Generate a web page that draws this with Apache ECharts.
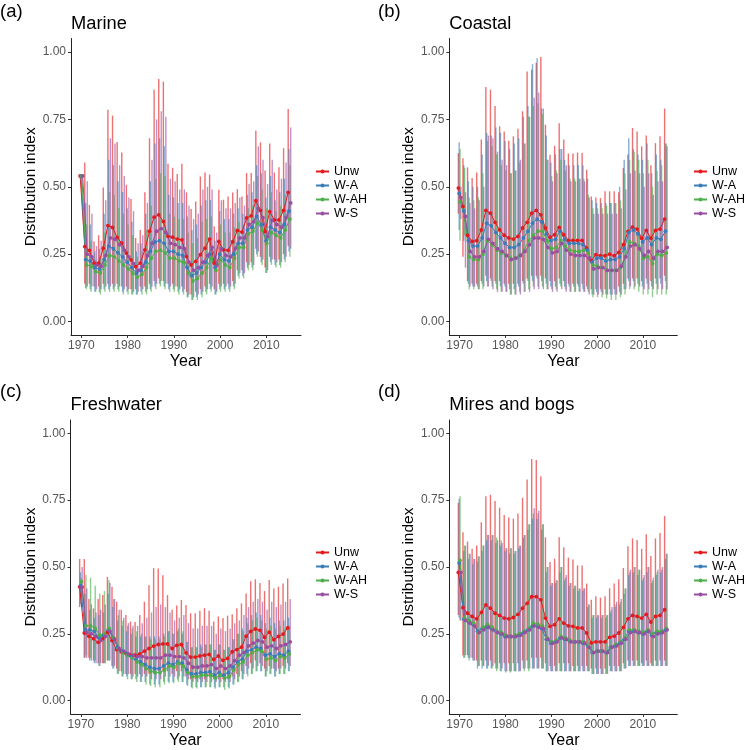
<!DOCTYPE html>
<html><head><meta charset="utf-8">
<script src="https://cdn.jsdelivr.net/npm/echarts@6/dist/echarts.min.js"></script>
<style>html,body{margin:0;padding:0;background:#fff}#c{width:747px;height:750px}</style>
</head><body><div id="c"></div>
<script>
const years = [1970,1971,1972,1973,1974,1975,1976,1977,1978,1979,1980,1981,1982,1983,1984,1985,1986,1987,1988,1989,1990,1991,1992,1993,1994,1995,1996,1997,1998,1999,2000,2001,2002,2003,2004,2005,2006,2007,2008,2009,2010,2011,2012,2013,2014,2015];
const seriesNames = ['Unw','W-A','W-AH','W-S'];
const panelTitles = ['Marine','Coastal','Freshwater','Mires and bogs'];
const panelLabels = ['(a)','(b)','(c)','(d)'];
const yTicks = [0,0.25,0.5,0.75,1];
const xTicks = [1970,1980,1990,2000,2010];

// ---- (a) Marine ----
const aUnw = [0.54,0.278,0.264,0.217,0.217,0.272,0.356,0.349,0.312,0.291,0.254,0.229,0.204,0.217,0.266,0.335,0.387,0.396,0.371,0.316,0.313,0.306,0.303,0.241,0.210,0.223,0.248,0.272,0.306,0.217,0.297,0.266,0.264,0.296,0.338,0.332,0.384,0.392,0.448,0.412,0.334,0.408,0.377,0.377,0.412,0.479];
const aWA = [0.54,0.23,0.225,0.20,0.195,0.23,0.28,0.27,0.255,0.24,0.22,0.20,0.18,0.19,0.22,0.26,0.295,0.30,0.29,0.26,0.26,0.25,0.245,0.20,0.17,0.18,0.20,0.22,0.25,0.20,0.25,0.23,0.225,0.25,0.29,0.29,0.34,0.35,0.39,0.36,0.30,0.35,0.34,0.33,0.36,0.41];
const aWAH = [0.54,0.21,0.205,0.185,0.18,0.21,0.245,0.24,0.225,0.21,0.195,0.18,0.165,0.175,0.20,0.235,0.26,0.265,0.255,0.235,0.235,0.225,0.22,0.18,0.15,0.16,0.18,0.20,0.235,0.19,0.23,0.21,0.20,0.235,0.275,0.275,0.325,0.335,0.365,0.34,0.29,0.33,0.32,0.31,0.34,0.38];
const aWS = [0.54,0.25,0.24,0.21,0.205,0.245,0.31,0.305,0.285,0.265,0.24,0.215,0.19,0.205,0.245,0.29,0.335,0.345,0.33,0.29,0.285,0.275,0.27,0.22,0.19,0.20,0.22,0.245,0.275,0.21,0.27,0.245,0.24,0.27,0.31,0.31,0.36,0.37,0.42,0.385,0.315,0.375,0.36,0.35,0.385,0.44];
const aUnwHi = [null,0.59,0.433,0.297,0.32,0.497,0.786,0.764,0.666,0.627,0.507,0.455,0.31,0.34,0.48,0.68,0.86,0.90,0.89,0.585,0.57,0.547,0.585,0.479,0.417,0.445,0.538,0.553,0.545,0.353,0.489,0.452,0.464,0.479,0.491,0.464,0.551,0.551,0.708,0.665,0.56,0.66,0.553,0.572,0.643,0.788];
const aWAHi = [null,0.44,0.36,0.26,0.27,0.40,0.60,0.58,0.52,0.48,0.42,0.37,0.26,0.29,0.40,0.52,0.66,0.68,0.65,0.47,0.46,0.44,0.44,0.39,0.34,0.36,0.43,0.45,0.45,0.30,0.41,0.38,0.38,0.40,0.42,0.40,0.47,0.48,0.58,0.55,0.46,0.54,0.45,0.48,0.53,0.64];
const aWAHHi = [null,0.36,0.30,0.23,0.24,0.33,0.48,0.47,0.42,0.40,0.36,0.32,0.24,0.26,0.34,0.43,0.53,0.55,0.54,0.40,0.39,0.38,0.38,0.33,0.29,0.31,0.37,0.38,0.39,0.27,0.36,0.33,0.33,0.35,0.37,0.36,0.42,0.43,0.54,0.49,0.42,0.48,0.41,0.43,0.47,0.58];
const aWSHi = [null,0.52,0.40,0.28,0.30,0.45,0.68,0.66,0.58,0.54,0.46,0.41,0.29,0.32,0.44,0.60,0.75,0.78,0.76,0.53,0.52,0.49,0.49,0.43,0.38,0.40,0.49,0.50,0.49,0.33,0.45,0.42,0.42,0.44,0.46,0.43,0.51,0.52,0.65,0.60,0.51,0.60,0.49,0.53,0.59,0.72];
const aUnwLo = [null,0.14,0.14,0.13,0.13,0.14,0.14,0.14,0.14,0.13,0.13,0.12,0.12,0.13,0.13,0.14,0.15,0.16,0.15,0.14,0.14,0.13,0.13,0.11,0.10,0.11,0.12,0.13,0.14,0.12,0.14,0.14,0.14,0.15,0.19,0.19,0.22,0.22,0.27,0.24,0.20,0.24,0.23,0.23,0.25,0.28];
const aWALo = [null,0.125,0.12,0.11,0.11,0.12,0.12,0.12,0.12,0.11,0.11,0.10,0.10,0.11,0.11,0.12,0.13,0.14,0.13,0.12,0.12,0.11,0.11,0.09,0.08,0.09,0.10,0.11,0.12,0.10,0.12,0.12,0.12,0.13,0.17,0.17,0.20,0.20,0.25,0.22,0.18,0.22,0.21,0.21,0.23,0.26];
const aWAHLo = [null,0.12,0.11,0.11,0.10,0.11,0.11,0.11,0.11,0.10,0.10,0.10,0.10,0.10,0.10,0.11,0.12,0.13,0.12,0.11,0.11,0.10,0.10,0.09,0.08,0.08,0.09,0.10,0.11,0.10,0.11,0.11,0.11,0.12,0.16,0.16,0.19,0.19,0.24,0.21,0.18,0.21,0.20,0.20,0.22,0.24];
const aWSLo = [null,0.13,0.13,0.12,0.12,0.13,0.13,0.13,0.13,0.12,0.12,0.11,0.11,0.12,0.12,0.13,0.14,0.15,0.14,0.13,0.13,0.12,0.12,0.10,0.09,0.10,0.11,0.12,0.13,0.11,0.13,0.13,0.13,0.14,0.18,0.18,0.21,0.21,0.26,0.23,0.19,0.23,0.22,0.22,0.24,0.27];

// ---- (b) Coastal ----
const bUnw = [0.495,0.427,0.32,0.297,0.30,0.34,0.412,0.402,0.368,0.34,0.32,0.31,0.306,0.316,0.347,0.368,0.402,0.412,0.396,0.347,0.313,0.322,0.349,0.322,0.301,0.301,0.301,0.301,0.272,0.226,0.248,0.244,0.244,0.25,0.244,0.256,0.285,0.334,0.35,0.343,0.309,0.338,0.309,0.338,0.343,0.38];
const bWA = [0.475,0.41,0.30,0.28,0.28,0.31,0.365,0.355,0.33,0.31,0.29,0.275,0.275,0.285,0.31,0.335,0.365,0.38,0.37,0.325,0.30,0.305,0.335,0.305,0.29,0.29,0.29,0.285,0.265,0.22,0.235,0.235,0.225,0.23,0.23,0.24,0.27,0.33,0.34,0.325,0.295,0.31,0.285,0.31,0.305,0.335];
const bWAH = [0.445,0.39,0.24,0.23,0.23,0.25,0.30,0.285,0.265,0.255,0.245,0.235,0.235,0.245,0.265,0.30,0.32,0.335,0.335,0.30,0.27,0.275,0.30,0.28,0.265,0.26,0.26,0.265,0.255,0.21,0.205,0.20,0.19,0.19,0.19,0.20,0.24,0.295,0.29,0.28,0.235,0.24,0.215,0.25,0.245,0.255];
const bWS = [0.46,0.39,0.26,0.24,0.24,0.26,0.305,0.29,0.27,0.26,0.245,0.23,0.235,0.245,0.26,0.285,0.31,0.31,0.305,0.275,0.255,0.26,0.29,0.265,0.25,0.245,0.245,0.245,0.235,0.195,0.20,0.20,0.19,0.19,0.19,0.205,0.24,0.28,0.285,0.27,0.245,0.26,0.235,0.26,0.26,0.275];
const bUnwHi = [0.625,0.606,0.572,0.532,0.553,0.675,0.87,0.86,0.80,0.724,0.705,0.671,0.687,0.715,0.78,0.928,0.934,0.96,0.981,0.73,0.619,0.652,0.736,0.675,0.623,0.623,0.627,0.625,0.563,0.464,0.46,0.458,0.483,0.483,0.483,0.48,0.57,0.62,0.718,0.705,0.65,0.69,0.58,0.662,0.687,0.79];
const bWAHi = [0.665,0.58,0.52,0.50,0.50,0.62,0.70,0.69,0.72,0.70,0.67,0.64,0.66,0.68,0.76,0.80,0.955,0.977,0.79,0.69,0.59,0.62,0.64,0.60,0.58,0.58,0.58,0.58,0.53,0.45,0.44,0.44,0.44,0.44,0.44,0.50,0.60,0.68,0.64,0.62,0.60,0.66,0.55,0.62,0.60,0.66];
const bWAHHi = [0.64,0.57,0.46,0.45,0.46,0.55,0.67,0.65,0.62,0.58,0.56,0.55,0.56,0.59,0.66,0.76,0.80,0.81,0.77,0.60,0.54,0.56,0.60,0.56,0.53,0.53,0.53,0.53,0.47,0.42,0.42,0.42,0.43,0.44,0.44,0.45,0.55,0.60,0.63,0.60,0.55,0.60,0.50,0.56,0.58,0.66];
const bWSHi = [0.50,0.48,0.44,0.42,0.45,0.50,0.69,0.68,0.63,0.60,0.58,0.55,0.56,0.60,0.66,0.76,0.83,0.85,0.79,0.60,0.52,0.55,0.64,0.58,0.52,0.52,0.53,0.52,0.46,0.40,0.40,0.40,0.40,0.40,0.40,0.42,0.49,0.55,0.56,0.55,0.50,0.55,0.47,0.52,0.52,0.65];
const bUnwLo = [0.40,0.24,0.15,0.14,0.14,0.15,0.17,0.16,0.15,0.15,0.14,0.14,0.14,0.14,0.15,0.16,0.17,0.17,0.17,0.16,0.15,0.15,0.16,0.15,0.14,0.14,0.14,0.14,0.13,0.12,0.12,0.12,0.12,0.12,0.12,0.13,0.14,0.16,0.16,0.16,0.15,0.16,0.15,0.16,0.16,0.17];
const bWALo = [0.34,0.30,0.14,0.13,0.13,0.14,0.15,0.15,0.14,0.13,0.13,0.12,0.12,0.13,0.14,0.15,0.15,0.16,0.15,0.14,0.13,0.13,0.14,0.13,0.13,0.13,0.13,0.12,0.12,0.10,0.11,0.11,0.10,0.10,0.10,0.11,0.12,0.15,0.15,0.14,0.13,0.14,0.13,0.14,0.14,0.15];
const bWAHLo = [0.30,0.32,0.12,0.12,0.12,0.12,0.13,0.13,0.12,0.11,0.11,0.10,0.10,0.11,0.11,0.12,0.13,0.13,0.13,0.12,0.12,0.12,0.13,0.12,0.11,0.11,0.11,0.11,0.11,0.09,0.09,0.09,0.085,0.08,0.08,0.09,0.10,0.12,0.12,0.11,0.10,0.10,0.09,0.10,0.10,0.10];
const bWSLo = [0.38,0.20,0.13,0.13,0.12,0.13,0.13,0.12,0.11,0.11,0.11,0.10,0.10,0.10,0.11,0.11,0.12,0.12,0.12,0.12,0.11,0.11,0.12,0.11,0.11,0.11,0.11,0.11,0.10,0.10,0.10,0.10,0.10,0.10,0.10,0.10,0.12,0.13,0.13,0.13,0.12,0.12,0.12,0.12,0.12,0.12];

// ---- (c) Freshwater ----
const cUnw = [0.426,0.253,0.241,0.232,0.218,0.232,0.256,0.225,0.191,0.183,0.177,0.17,0.17,0.175,0.185,0.195,0.204,0.21,0.212,0.212,0.195,0.207,0.21,0.179,0.163,0.163,0.167,0.17,0.173,0.154,0.167,0.151,0.158,0.183,0.191,0.20,0.241,0.259,0.268,0.263,0.237,0.256,0.228,0.24,0.249,0.272];
const cWA = [0.43,0.265,0.265,0.26,0.235,0.245,0.265,0.235,0.20,0.185,0.175,0.165,0.155,0.145,0.135,0.125,0.12,0.12,0.13,0.14,0.135,0.145,0.14,0.115,0.10,0.10,0.105,0.105,0.108,0.095,0.105,0.095,0.105,0.125,0.145,0.155,0.185,0.19,0.20,0.195,0.17,0.175,0.165,0.175,0.17,0.185];
const cWAH = [0.445,0.28,0.28,0.27,0.245,0.25,0.27,0.235,0.195,0.18,0.17,0.16,0.145,0.135,0.12,0.11,0.105,0.105,0.115,0.13,0.125,0.14,0.13,0.105,0.09,0.09,0.095,0.095,0.095,0.085,0.095,0.085,0.09,0.115,0.135,0.145,0.17,0.18,0.19,0.185,0.155,0.16,0.15,0.165,0.16,0.175];
const cWS = [0.425,0.255,0.25,0.24,0.225,0.24,0.26,0.23,0.195,0.185,0.175,0.17,0.165,0.165,0.16,0.16,0.16,0.16,0.17,0.17,0.165,0.165,0.16,0.14,0.125,0.125,0.13,0.13,0.135,0.12,0.13,0.12,0.13,0.15,0.17,0.18,0.205,0.215,0.225,0.22,0.20,0.205,0.195,0.205,0.21,0.22];
const cUnwHi = [0.53,0.53,0.38,0.345,0.38,0.395,0.463,0.426,0.37,0.34,0.32,0.296,0.294,0.32,0.37,0.432,0.496,0.494,0.469,0.395,0.34,0.356,0.377,0.358,0.327,0.327,0.336,0.346,0.336,0.296,0.315,0.309,0.318,0.323,0.346,0.364,0.401,0.447,0.454,0.44,0.41,0.451,0.42,0.426,0.438,0.457];
const cWAHi = [0.48,0.40,0.34,0.31,0.32,0.33,0.40,0.35,0.30,0.28,0.26,0.25,0.24,0.24,0.24,0.24,0.24,0.24,0.25,0.26,0.25,0.26,0.25,0.22,0.20,0.20,0.21,0.21,0.21,0.19,0.21,0.19,0.20,0.23,0.25,0.27,0.31,0.32,0.33,0.32,0.29,0.31,0.29,0.30,0.30,0.31];
const cWAHHi = [0.46,0.47,0.46,0.43,0.40,0.41,0.45,0.38,0.32,0.30,0.28,0.27,0.26,0.25,0.24,0.23,0.23,0.23,0.24,0.26,0.25,0.27,0.26,0.22,0.20,0.20,0.20,0.21,0.21,0.19,0.21,0.19,0.20,0.23,0.25,0.26,0.29,0.30,0.31,0.30,0.27,0.28,0.27,0.28,0.27,0.28];
const cWSHi = [0.50,0.42,0.36,0.33,0.34,0.36,0.44,0.38,0.34,0.31,0.29,0.28,0.28,0.29,0.31,0.33,0.35,0.36,0.35,0.33,0.30,0.31,0.32,0.29,0.27,0.27,0.28,0.28,0.28,0.25,0.27,0.26,0.27,0.29,0.30,0.32,0.35,0.37,0.38,0.37,0.34,0.37,0.35,0.36,0.37,0.38];
const cUnwLo = [0.35,0.16,0.16,0.15,0.14,0.14,0.15,0.13,0.12,0.11,0.10,0.10,0.10,0.10,0.10,0.10,0.10,0.11,0.11,0.11,0.10,0.11,0.11,0.09,0.08,0.08,0.08,0.08,0.09,0.08,0.08,0.08,0.08,0.09,0.10,0.11,0.13,0.14,0.15,0.14,0.12,0.13,0.12,0.12,0.13,0.14];
const cWALo = [0.36,0.16,0.15,0.14,0.13,0.14,0.15,0.12,0.10,0.09,0.09,0.08,0.08,0.07,0.07,0.06,0.06,0.06,0.07,0.07,0.07,0.08,0.07,0.06,0.05,0.05,0.05,0.05,0.05,0.05,0.05,0.05,0.05,0.06,0.07,0.08,0.10,0.10,0.11,0.11,0.09,0.10,0.09,0.10,0.10,0.11];
const cWAHLo = [0.38,0.17,0.16,0.15,0.13,0.14,0.15,0.12,0.10,0.09,0.08,0.08,0.07,0.07,0.06,0.055,0.05,0.05,0.06,0.065,0.065,0.07,0.07,0.055,0.045,0.045,0.05,0.05,0.05,0.045,0.05,0.04,0.045,0.06,0.07,0.08,0.09,0.10,0.11,0.11,0.09,0.10,0.09,0.10,0.10,0.11];
const cWSLo = [0.35,0.16,0.15,0.14,0.14,0.14,0.15,0.13,0.11,0.10,0.10,0.09,0.09,0.09,0.09,0.08,0.08,0.08,0.09,0.09,0.09,0.09,0.09,0.08,0.07,0.07,0.07,0.07,0.07,0.07,0.07,0.07,0.07,0.08,0.09,0.10,0.12,0.12,0.13,0.13,0.11,0.12,0.11,0.12,0.12,0.13];

// ---- (d) Mires and bogs ----
const dUnw = [0.48,0.348,0.327,0.315,0.306,0.33,0.358,0.346,0.327,0.319,0.309,0.306,0.311,0.323,0.346,0.364,0.389,0.389,0.377,0.309,0.278,0.284,0.306,0.29,0.28,0.278,0.272,0.272,0.253,0.216,0.22,0.22,0.22,0.237,0.241,0.253,0.274,0.306,0.319,0.315,0.309,0.323,0.294,0.315,0.319,0.34];
const dWA = [0.515,0.305,0.295,0.285,0.26,0.27,0.275,0.27,0.26,0.25,0.24,0.24,0.24,0.245,0.255,0.265,0.28,0.28,0.27,0.23,0.215,0.22,0.235,0.23,0.225,0.22,0.22,0.215,0.205,0.18,0.185,0.185,0.18,0.20,0.205,0.215,0.23,0.26,0.26,0.255,0.25,0.26,0.245,0.255,0.255,0.265];
const dWAH = [0.525,0.31,0.30,0.29,0.255,0.275,0.285,0.275,0.26,0.255,0.245,0.24,0.245,0.25,0.26,0.27,0.29,0.285,0.28,0.235,0.22,0.225,0.24,0.235,0.225,0.22,0.22,0.22,0.205,0.18,0.185,0.185,0.18,0.20,0.21,0.22,0.235,0.265,0.265,0.26,0.255,0.265,0.25,0.26,0.26,0.27];
const dWS = [0.48,0.30,0.29,0.28,0.255,0.265,0.275,0.265,0.255,0.25,0.24,0.24,0.24,0.245,0.255,0.265,0.28,0.275,0.27,0.23,0.215,0.22,0.235,0.23,0.22,0.22,0.22,0.215,0.20,0.18,0.185,0.185,0.18,0.20,0.205,0.215,0.23,0.255,0.26,0.255,0.25,0.26,0.24,0.25,0.255,0.265];
const dUnwHi = [0.74,0.63,0.595,0.568,0.58,0.667,0.765,0.77,0.747,0.722,0.695,0.685,0.681,0.70,0.759,0.827,0.904,0.90,0.84,0.611,0.519,0.531,0.611,0.574,0.535,0.528,0.506,0.506,0.438,0.377,0.391,0.385,0.391,0.42,0.438,0.454,0.496,0.578,0.607,0.601,0.568,0.623,0.541,0.607,0.627,0.691];
const dWAHi = [0.755,0.56,0.53,0.51,0.52,0.56,0.60,0.60,0.59,0.58,0.56,0.55,0.55,0.57,0.61,0.64,0.68,0.68,0.64,0.48,0.43,0.44,0.48,0.45,0.43,0.42,0.41,0.41,0.35,0.31,0.31,0.31,0.31,0.33,0.35,0.36,0.40,0.47,0.48,0.47,0.45,0.48,0.44,0.47,0.48,0.53];
const dWAHHi = [0.765,0.58,0.55,0.53,0.54,0.58,0.62,0.62,0.61,0.60,0.57,0.57,0.56,0.58,0.62,0.66,0.70,0.70,0.66,0.50,0.44,0.45,0.50,0.46,0.44,0.43,0.42,0.42,0.36,0.32,0.32,0.32,0.32,0.34,0.36,0.37,0.42,0.48,0.50,0.49,0.46,0.50,0.45,0.48,0.49,0.55];
const dWSHi = [0.52,0.58,0.55,0.53,0.54,0.58,0.62,0.62,0.60,0.59,0.57,0.57,0.56,0.58,0.62,0.66,0.72,0.71,0.66,0.50,0.44,0.45,0.50,0.47,0.44,0.43,0.42,0.42,0.36,0.32,0.32,0.32,0.32,0.35,0.37,0.38,0.42,0.49,0.50,0.49,0.47,0.50,0.46,0.49,0.50,0.55];
const dUnwLo = [0.32,0.17,0.17,0.16,0.15,0.15,0.15,0.15,0.14,0.14,0.14,0.14,0.14,0.14,0.15,0.15,0.16,0.16,0.16,0.14,0.13,0.13,0.14,0.14,0.14,0.13,0.13,0.13,0.13,0.12,0.12,0.12,0.12,0.13,0.13,0.13,0.14,0.15,0.15,0.15,0.14,0.15,0.14,0.15,0.15,0.15];
const dWALo = [0.31,0.16,0.16,0.15,0.12,0.12,0.12,0.12,0.12,0.11,0.11,0.11,0.11,0.11,0.12,0.12,0.12,0.12,0.12,0.11,0.11,0.11,0.11,0.11,0.11,0.11,0.11,0.11,0.11,0.10,0.10,0.10,0.10,0.11,0.11,0.11,0.12,0.13,0.13,0.13,0.13,0.13,0.13,0.13,0.13,0.13];
const dWAHLo = [0.30,0.16,0.15,0.15,0.13,0.13,0.12,0.12,0.11,0.11,0.105,0.105,0.11,0.11,0.11,0.11,0.12,0.12,0.12,0.11,0.11,0.11,0.11,0.11,0.11,0.11,0.11,0.11,0.11,0.10,0.10,0.10,0.10,0.11,0.11,0.11,0.12,0.13,0.13,0.13,0.13,0.13,0.13,0.13,0.13,0.13];
const dWSLo = [0.30,0.17,0.16,0.15,0.13,0.13,0.13,0.13,0.12,0.12,0.11,0.11,0.11,0.11,0.12,0.12,0.12,0.12,0.12,0.11,0.11,0.11,0.11,0.11,0.11,0.11,0.11,0.11,0.11,0.10,0.10,0.10,0.10,0.11,0.11,0.11,0.12,0.13,0.13,0.13,0.13,0.13,0.13,0.13,0.13,0.13];

// ---- assembly ----
const panelMeans = [[aUnw,aWA,aWAH,aWS],[bUnw,bWA,bWAH,bWS],[cUnw,cWA,cWAH,cWS],[dUnw,dWA,dWAH,dWS]];
const panelLo = [[aUnwLo,aWALo,aWAHLo,aWSLo],[bUnwLo,bWALo,bWAHLo,bWSLo],[cUnwLo,cWALo,cWAHLo,cWSLo],[dUnwLo,dWALo,dWAHLo,dWSLo]];
const panelHi = [[aUnwHi,aWAHi,aWAHHi,aWSHi],[bUnwHi,bWAHi,bWAHHi,bWSHi],[cUnwHi,cWAHi,cWAHHi,cWSHi],[dUnwHi,dWAHi,dWAHHi,dWSHi]];

const colors = ['#E41A1C','#377EB8','#4DAF4A','#984EA3'];
const dodge = [-0.27,-0.09,0.09,0.27];
const FONT = 'Liberation Sans, Arial, Helvetica, sans-serif';

const layout = [
  {left:71, top:38.5, width:230, height:296.5, legendLeft:315, legendTop:165, lblLeft:0, lblTop:2, ttlTop:15},
  {left:449.3, top:38.5, width:228, height:296.5, legendLeft:693, legendTop:165, lblLeft:378, lblTop:2, ttlTop:15},
  {left:70.5, top:420, width:230, height:297, legendLeft:315, legendTop:546, lblLeft:0, lblTop:382, ttlTop:396},
  {left:449.3, top:420, width:228, height:297, legendLeft:693, legendTop:546, lblLeft:378, lblTop:382, ttlTop:396}
];

const grids=[], xAxes=[], yAxes=[], series=[], titles=[], legends=[];
layout.forEach((L, p) => {
  grids.push({left:L.left, top:L.top, width:L.width, height:L.height, containLabel:false});
  xAxes.push({
    type:'value', gridIndex:p, min:1967.75, max:2017.5,
    name:'Year', nameLocation:'middle', nameGap:19,
    nameTextStyle:{fontSize:16, color:'#000', fontFamily:FONT},
    axisLine:{show:true, onZero:false, lineStyle:{color:'#222', width:1}},
    axisTick:{show:true, length:3, customValues:xTicks, lineStyle:{color:'#333'}},
    axisLabel:{customValues:xTicks, fontSize:12, color:'#555', margin:5, fontFamily:FONT,
      formatter:v => String(Math.round(v))},
    splitLine:{show:false}
  });
  yAxes.push({
    type:'value', gridIndex:p, min:-0.05, max:1.05,
    name:'Distribution index', nameLocation:'middle', nameGap:29,
    nameTextStyle:{fontSize:15.5, color:'#000', fontFamily:FONT},
    axisLine:{show:true, onZero:false, lineStyle:{color:'#222', width:1}},
    axisTick:{show:true, length:3, customValues:yTicks, lineStyle:{color:'#333'}},
    axisLabel:{customValues:yTicks, fontSize:12, color:'#555', margin:5, fontFamily:FONT,
      formatter:v => v.toFixed(2)},
    splitLine:{show:false}
  });
  titles.push({text:panelLabels[p], left:L.lblLeft, top:L.lblTop, padding:0,
    textStyle:{fontSize:18.5, fontWeight:'normal', color:'#000', fontFamily:FONT}});
  titles.push({text:panelTitles[p], left:L.left, top:L.ttlTop, padding:0,
    textStyle:{fontSize:18.3, fontWeight:'normal', color:'#000', fontFamily:FONT}});
  legends.push({data:seriesNames, orient:'vertical', left:L.legendLeft, top:L.legendTop,
    padding:0, itemGap:1, itemWidth:13, itemHeight:5,
    textStyle:{fontSize:12.5, color:'#000', fontFamily:FONT, lineHeight:13}});

  // error bars
  seriesNames.forEach((nm, s) => {
    const data = [];
    years.forEach((yr, i) => {
      const lo = panelLo[p][s][i], hi = panelHi[p][s][i];
      if (lo != null && hi != null) data.push([yr + dodge[s], lo, hi]);
    });
    series.push({
      type:'custom', name:nm + ' CI', xAxisIndex:p, yAxisIndex:p, z:1,
      encode:{x:0, y:[1,2]}, data:data, silent:true,
      renderItem:(params, api) => {
        const a = api.coord([api.value(0), api.value(1)]);
        const b = api.coord([api.value(0), api.value(2)]);
        return {type:'line', shape:{x1:a[0], y1:a[1], x2:b[0], y2:b[1]},
          style:{stroke:colors[s], lineWidth:1.4, opacity:0.62}};
      }
    });
  });
  // mean lines
  seriesNames.forEach((nm, s) => {
    series.push({
      type:'line', name:nm, xAxisIndex:p, yAxisIndex:p, z:3,
      data: years.map((yr, i) => [yr + dodge[s], panelMeans[p][s][i]]),
      symbol:'circle', symbolSize:3.8, showSymbol:true,
      lineStyle:{color:colors[s], width:1}, itemStyle:{color:colors[s]}
    });
  });
});

const chart = echarts.init(document.getElementById('c'), null, {renderer:'canvas'});
chart.setOption({
  animation:false, backgroundColor:'#fff', color:colors,
  textStyle:{fontFamily:FONT},
  title:titles, legend:legends, grid:grids, xAxis:xAxes, yAxis:yAxes, series:series
});
</script></body></html>
